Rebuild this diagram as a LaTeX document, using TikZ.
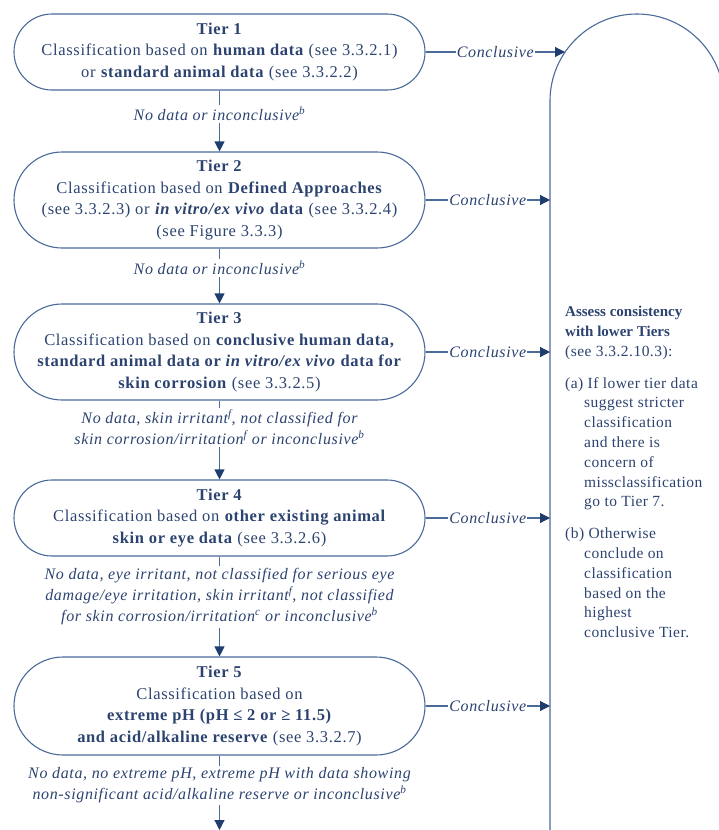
\documentclass[tikz,border=0pt]{standalone}
\usepackage{fontspec}
\setmainfont{Liberation Serif}
\newfontfamily\wfont[LetterSpace=4]{Liberation Serif}
\newfontfamily\rfont[LetterSpace=3]{Liberation Serif}
\newfontfamily\pfont{Liberation Serif}
\usetikzlibrary{arrows.meta}
\definecolor{txt}{HTML}{2C4370}
\definecolor{lnc}{HTML}{4A6A98}
\definecolor{ahc}{HTML}{1F3D6E}
\begin{document}
\begin{tikzpicture}[x=1pt,y=1pt,
  tier/.style={draw=lnc, line width=1.1pt, text=txt, align=center, minimum width=411pt, font=\wfont\fontsize{16.5}{21.5}\selectfont, inner sep=0pt},
  lab/.style={text=txt, align=center, font=\wfont\fontsize{16}{21}\selectfont\itshape, inner sep=2pt},
  con/.style={lab, fill=white, inner sep=1pt},
  lnk/.style={draw=lnc, line width=1.1pt},
  arr/.style={lnk, -{Triangle[length=10pt,width=10pt,color=ahc]}}
]
\useasboundingbox (0,0) rectangle (719,-830);
\clip (0,0) rectangle (719,-830);

\node[tier, minimum height=76pt, rounded corners=38pt] (t1) at (219.5,-52)
  {\textbf{Tier 1}\\Classification based on \textbf{human data} (see 3.3.2.1)\\or \textbf{standard animal data} (see 3.3.2.2)};
\node[tier, minimum height=96pt, rounded corners=48pt] (t2) at (219.5,-200)
  {\textbf{Tier 2}\\Classification based on \textbf{Defined Approaches}\\(see 3.3.2.3) or \textbf{\textit{in vitro/ex vivo} data} (see 3.3.2.4)\\(see Figure 3.3.3)};
\node[tier, minimum height=96pt, rounded corners=48pt] (t3) at (219.5,-352)
  {\textbf{Tier 3}\\Classification based on \textbf{conclusive human data,}\\\textbf{standard animal data or \textit{in vitro/ex vivo} data for}\\\textbf{skin corrosion} (see 3.3.2.5)};
\node[tier, minimum height=76pt, rounded corners=38pt] (t4) at (219.5,-518)
  {\textbf{Tier 4}\\Classification based on \textbf{other existing animal}\\\textbf{skin or eye data} (see 3.3.2.6)};
\node[tier, minimum height=98pt, rounded corners=49pt] (t5) at (219.5,-706)
  {\textbf{Tier 5}\\Classification based on\\\textbf{extreme pH (pH ≤ 2 or ≥ 11.5)}\\\textbf{and acid/alkaline reserve} (see 3.3.2.7)};

\node[lab] (l1) at (219.5,-114) {No data or inconclusive\textsuperscript{b}};
\node[lab] (l2) at (219.5,-268) {No data or inconclusive\textsuperscript{b}};
\node[lab] (l3) at (219.5,-427.5) {No data, skin irritant\textsuperscript{f}, not classified for\\skin corrosion/irritation\textsuperscript{f} or inconclusive\textsuperscript{b}};
\node[lab] (l4) at (219.5,-597) {No data, eye irritant, not classified for serious eye\\damage/eye irritation, skin irritant\textsuperscript{f}, not classified\\for skin corrosion/irritation\textsuperscript{c} or inconclusive\textsuperscript{b}};
\node[lab] (l5) at (219.5,-785.5) {No data, no extreme pH, extreme pH with data showing\\non-significant acid/alkaline reserve or inconclusive\textsuperscript{b}};
\coordinate (bot) at (219.5,-830);

\draw[lnk] (t1.south) -- (l1.north);
\draw[arr] (l1.south) -- (t2.north);
\draw[lnk] (t2.south) -- (l2.north);
\draw[arr] (l2.south) -- (t3.north);
\draw[lnk] (t3.south) -- (l3.north);
\draw[arr] (l3.south) -- (t4.north);
\draw[lnk] (t4.south) -- (l4.north);
\draw[arr] (l4.south) -- (t5.north);
\draw[lnk] (t5.south) -- (l5.north);
\draw[arr] (l5.south) -- (bot);

% right assessment box
\draw[lnk] (550,-850) -- (550,-101) arc[start angle=180,end angle=0,radius=87] -- (724,-850);
\coordinate (rl) at (550,0);
\coordinate (c1) at (565,-52);

\draw[arr] (t1.east) -- node[con] {Conclusive} (c1);
\draw[arr] (t2.east) -- node[con] {Conclusive} (t2.east -| rl);
\draw[arr] (t3.east) -- node[con] {Conclusive} (t3.east -| rl);
\draw[arr] (t4.east) -- node[con] {Conclusive} (t4.east -| rl);
\draw[arr] (t5.east) -- node[con] {Conclusive} (t5.east -| rl);

\node[anchor=north west, inner sep=0pt, text=txt, align=left, font=\rfont\fontsize{15.5}{19.8}\selectfont] (rt) at (565,-306)
  {{\pfont\fontsize{15}{19.8}\selectfont\textbf{Assess consistency}}\\{\pfont\fontsize{15}{19.8}\selectfont\textbf{with lower Tiers}}\\(see 3.3.2.10.3):\\[12pt]
   (a) If lower tier data\\\hspace*{19pt}suggest stricter\\\hspace*{19pt}classification\\\hspace*{19pt}and there is\\\hspace*{19pt}concern of\\\hspace*{19pt}missclassification\\\hspace*{19pt}go to Tier 7.\\[12pt]
   (b) Otherwise\\\hspace*{19pt}conclude on\\\hspace*{19pt}classification\\\hspace*{19pt}based on the\\\hspace*{19pt}highest\\\hspace*{19pt}conclusive Tier.};
\end{tikzpicture}
\end{document}
